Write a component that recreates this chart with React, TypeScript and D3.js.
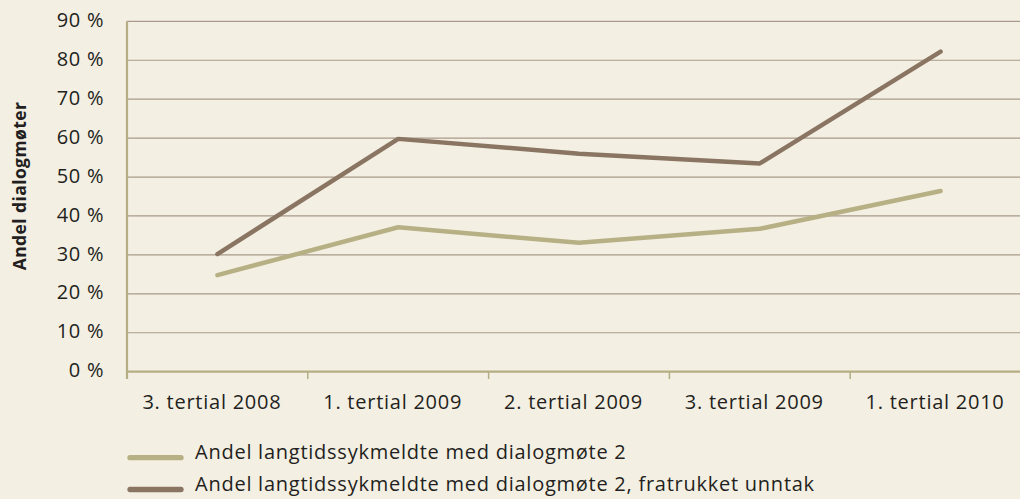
import React from "react";
import * as d3 from "d3";

const categories = ["3. tertial 2008", "1. tertial 2009", "2. tertial 2009", "3. tertial 2009", "1. tertial 2010"];
const seriesA = [24.8, 37.1, 33.1, 36.7, 46.4];
const seriesB = [30.2, 59.8, 56.0, 53.5, 82.2];
const seriesNames = [
  "Andel langtidssykmeldte med dialogmøte 2",
  "Andel langtidssykmeldte med dialogmøte 2, fratrukket unntak",
];
const yTicks = [0, 10, 20, 30, 40, 50, 60, 70, 80, 90];
const yTitle = "Andel dialogmøter";

const W = 1020;
const H = 499;
const BG = "#f4efe3";
const GRID = "#a89a8a";
const AXIS = "#b5ae84";
const COL_A = "#b6b084";
const COL_B = "#8a7563";
const TEXT = "#231f20";
const FONT = "'Open Sans', 'Noto Sans', sans-serif";
const FS = 20;
const LS = 0.75;

export default function App() {
  const left = 127;
  const bandW = 180.8;
  const x = d3.scaleBand<string>().domain(categories).range([left, left + bandW * categories.length]);
  const y = d3.scaleLinear().domain([0, 90]).range([371.7, 21.3]);
  const line = d3
    .line<number>()
    .x((_, i) => (x(categories[i]) as number) + x.bandwidth() / 2)
    .y((d) => y(d));
  const series = [
    { values: seriesA, color: COL_A, name: seriesNames[0] },
    { values: seriesB, color: COL_B, name: seriesNames[1] },
  ];
  return (
    <svg width={W} height={H} style={{ position: "absolute", left: 0, top: 0, background: BG }}>
      <rect x={0} y={0} width={W} height={H} fill={BG} />
      {yTicks.filter((t) => t > 0).map((t) => (
        <line key={t} x1={left} x2={W} y1={y(t)} y2={y(t)} stroke={GRID} strokeWidth={1.2} />
      ))}
      {yTicks.map((t) => (
        <text
          key={"l" + t}
          x={103.5 + LS}
          y={y(t) + 5.6}
          textAnchor="end"
          fontFamily={FONT}
          fontSize={FS}
          letterSpacing={LS}
          fill={TEXT}
        >
          {t} %
        </text>
      ))}
      <line x1={left} x2={left} y1={y(90)} y2={379} stroke={AXIS} strokeWidth={2.2} />
      <line x1={left} x2={W} y1={y(0)} y2={y(0)} stroke={AXIS} strokeWidth={2.2} />
      {categories.map((c) => (
        <line key={"t" + c} x1={x(c) as number} x2={x(c) as number} y1={y(0)} y2={379} stroke={AXIS} strokeWidth={1.5} />
      ))}
      {categories.map((c) => (
        <text
          key={"x" + c}
          x={(x(c) as number) + x.bandwidth() / 2 - 5.5}
          y={409}
          textAnchor="middle"
          fontFamily={FONT}
          fontSize={FS}
          letterSpacing={LS}
          fill={TEXT}
        >
          {c}
        </text>
      ))}
      <text
        transform={`translate(25.5,${186}) rotate(-90)`}
        textAnchor="middle"
        fontFamily={FONT}
        fontWeight="bold"
        fontSize={17.5}
        letterSpacing={0.4}
        fill={TEXT}
      >
        {yTitle}
      </text>
      {series.map((s) => (
        <path
          key={s.name}
          d={line(s.values) as string}
          fill="none"
          stroke={s.color}
          strokeWidth={4.5}
          strokeLinecap="round"
          strokeLinejoin="round"
        />
      ))}
      {series.map((s, i) => (
        <g key={"lg" + i} transform={`translate(0,${457.7 + i * 31.8})`}>
          <line x1={130} x2={181} y1={0} y2={0} stroke={s.color} strokeWidth={5.3} strokeLinecap="round" />
          <text x={195} y={1.6} fontFamily={FONT} fontSize={FS} letterSpacing={LS} fill={TEXT}>
            {s.name}
          </text>
        </g>
      ))}
    </svg>
  );
}
